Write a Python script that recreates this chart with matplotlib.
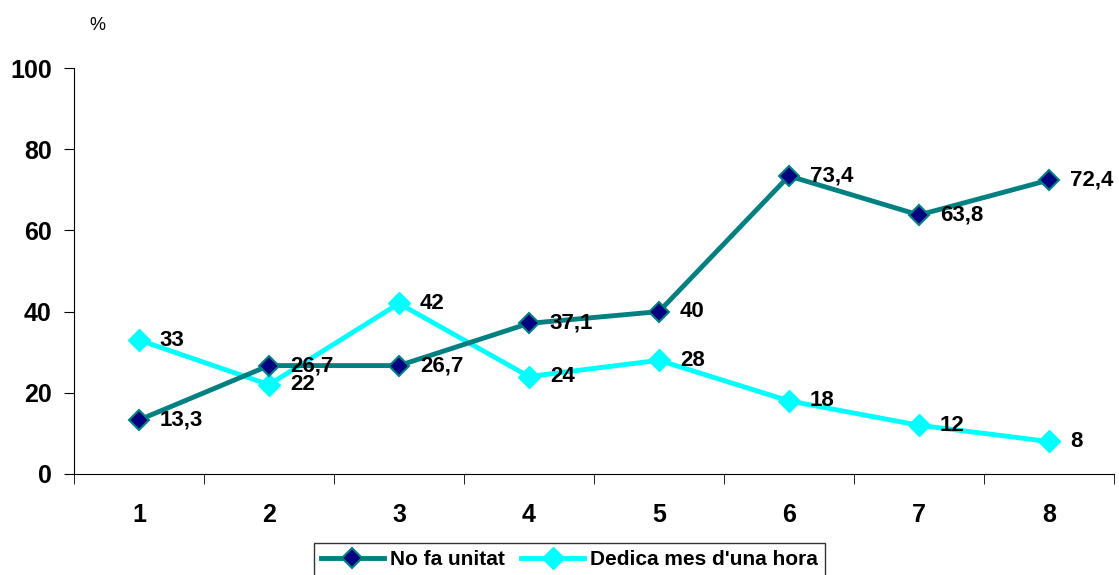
import matplotlib.pyplot as plt
import numpy as np

cats = [1, 2, 3, 4, 5, 6, 7, 8]
no_fa = [13.3, 26.7, 26.7, 37.1, 40, 73.4, 63.8, 72.4]
dedica = [33, 22, 42, 24, 28, 18, 12, 8]
labels_no_fa = ["13,3", "26,7", "26,7", "37,1", "40", "73,4", "63,8", "72,4"]
labels_dedica = ["33", "22", "42", "24", "28", "18", "12", "8"]

plt.rcParams['font.family'] = ['Liberation Sans', 'DejaVu Sans']

fig = plt.figure(figsize=(11.19, 5.75), dpi=100)
ax = fig.add_axes([0.0661, 0.1757, 0.9294, 0.706])

ax.plot(cats, no_fa, color='#008080', lw=3.5, marker='D', ms=10,
        mfc='#000080', mec='#008080', mew=1.5, label='No fa unitat', zorder=3)
ax.plot(cats, dedica, color='#00FFFF', lw=3.5, marker='D', ms=11,
        mfc='#00FFFF', mec='#00FFFF', label="Dedica mes d'una hora", zorder=2)

for x, y, t in zip(cats, no_fa, labels_no_fa):
    ax.annotate(t, (x, y), xytext=(15, 0), textcoords='offset points',
                va='center', ha='left', fontsize=16, fontweight='bold', zorder=4)
for x, y, t in zip(cats, dedica, labels_dedica):
    ax.annotate(t, (x, y), xytext=(15, 0), textcoords='offset points',
                va='center', ha='left', fontsize=16, fontweight='bold', zorder=4)

ax.set_xlim(0.5, 8.5)
ax.set_ylim(0, 100)
ax.set_yticks([0, 20, 40, 60, 80, 100])
ax.set_xticks(cats)
ax.set_xticks(np.arange(0.5, 9, 1), minor=True)
ax.tick_params(axis='x', which='major', length=0, pad=21)
ax.tick_params(axis='x', which='minor', length=7, direction='out')
ax.tick_params(axis='y', length=7, direction='out', pad=9)
for lbl in ax.get_xticklabels() + ax.get_yticklabels():
    lbl.set_fontsize(18)
    lbl.set_fontweight('bold')
ax.spines['top'].set_visible(False)
ax.spines['right'].set_visible(False)

fig.text(0.087, 0.955, '%', fontsize=13, ha='center', va='center')

leg = fig.legend(loc='lower center', bbox_to_anchor=(0.509, -0.02), ncol=2,
                 frameon=True, fancybox=False, edgecolor='black',
                 prop={'size': 15, 'weight': 'bold'}, handlelength=3,
                 columnspacing=0.8, handletextpad=0.3, borderpad=0.35)
leg.get_frame().set_linewidth(1)

fig.savefig('out.png', dpi=100)
